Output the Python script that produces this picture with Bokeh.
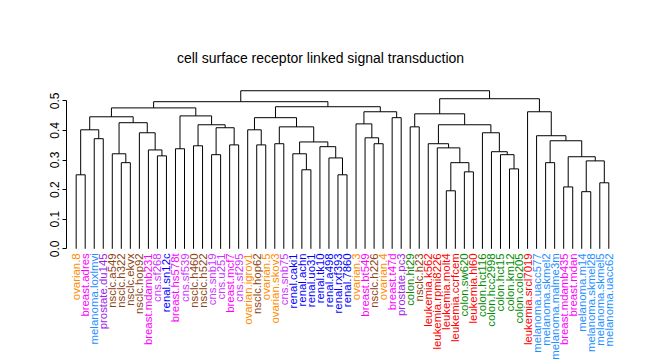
import math
from bokeh.plotting import figure
from bokeh.models import Range1d, FixedTicker, ColumnDataSource
from bokeh.core.properties import value
from bokeh.embed import file_html
from bokeh.resources import INLINE

TITLE = "cell surface receptor linked signal transduction"

LEAF_LABELS = [
    "ovarian.8", "breast.adres", "melanoma.loxlmvi", "prostate.du145", "nsclc.a549",
    "nsclc.h322", "nsclc.ekvx", "nsclc.hop92", "breast.mdamb231", "cns.sf268",
    "renal.sn12c", "breast.hs578t", "cns.sf539", "nsclc.h460", "nsclc.h522",
    "cns.snb19", "cns.u251", "breast.mcf7", "cns.sf295", "ovarian.igrov1",
    "nsclc.hop62", "ovarian.5", "ovarian.skov3", "cns.snb75", "renal.caki1",
    "renal.achn", "renal.uo31", "renal.tk10", "renal.a498", "renal.rxf393",
    "renal.7860", "ovarian.3", "breast.bt549", "nsclc.h226", "ovarian.4",
    "breast.t47d", "prostate.pc3", "colon.ht29", "nsclc.h23", "leukemia.k562",
    "leukemia.rpmi8226", "leukemia.molt4", "leukemia.ccrfcem", "colon.sw620", "leukemia.hl60",
    "colon.hct116", "colon.hcc2998", "colon.hct15", "colon.km12", "colon.colo205",
    "leukemia.srcl7019", "melanoma.uacc577", "melanoma.skmel2", "melanoma.malme3m", "breast.mdamb435",
    "breast.mdan", "melanoma.m14", "melanoma.skmel28", "melanoma.skmel5", "melanoma.uacc62",
]

GROUP_COLORS = {
    "ovarian": "#FF8C00",
    "breast": "#FF00FF",
    "melanoma": "#1E90FF",
    "prostate": "#A020F0",
    "nsclc": "#8B4513",
    "cns": "#CC33FF",
    "renal": "#0000FF",
    "colon": "#008B00",
    "leukemia": "#FF0000",
}

# hclust-style merge table: negative = leaf number, positive = earlier merge row (1-based)
MERGE_LEFT = [-1, -3, 1, -6, -5, -10, -9, -8, 5, 3,
              -12, -14, -16, -18, 13, 12, 11, 10, -21, -20,
              -23, -26, -25, -30, -29, -28, 23, 21, 20, -34,
              -33, -32, -36, 32, 29, 18, -38, -42, -44, 38,
              -41, -40, -49, -48, -47, -46, 42, 37, -53, -55,
              -57, -59, 51, 50, 49, -52, -51, 48, 36]
MERGE_RIGHT = [-2, -4, 2, -7, 4, -11, 6, 7, 8, 9,
               -13, -15, -17, -19, 14, 15, 16, 17, -22, 19,
               -24, -27, 22, -31, 24, 25, 26, 27, 28, -35,
               30, 31, -37, 33, 34, 35, -39, -43, -45, 39,
               40, 41, -50, 43, 44, 45, 46, 47, -54, -56,
               -58, -60, 52, 53, 54, 55, 56, 57, 58]
MERGE_HEIGHT = [0.250, 0.372, 0.402, 0.291, 0.321, 0.314, 0.334, 0.392, 0.426, 0.446,
                0.338, 0.348, 0.318, 0.351, 0.409, 0.419, 0.449, 0.476, 0.351, 0.402,
                0.355, 0.267, 0.321, 0.250, 0.307, 0.345, 0.361, 0.412, 0.443, 0.355,
                0.375, 0.422, 0.443, 0.463, 0.480, 0.497, 0.412, 0.196, 0.260, 0.291,
                0.341, 0.355, 0.270, 0.318, 0.328, 0.392, 0.419, 0.456, 0.291, 0.209,
                0.193, 0.223, 0.297, 0.311, 0.365, 0.382, 0.463, 0.507, 0.534]

Y_TICKS = [0.0, 0.1, 0.2, 0.3, 0.4, 0.5]
Y_TICK_LABELS = ["0.0", "0.1", "0.2", "0.3", "0.4", "0.5"]

# ---- layout constants (pixels, page coordinates) ----
W, H = 647, 360
FRAME_LEFT = 66
X0_DATA, X1_DATA = -0.0711, 64.285
Y0_DATA, Y1_DATA = -0.37736, 0.83885
PX_PER_Y = H / (Y1_DATA - Y0_DATA)
PX_PER_X = (W - FRAME_LEFT) / (X1_DATA - X0_DATA)
LABEL_GAP = 4.5 / PX_PER_Y
TITLE_X = X0_DATA + (320 - FRAME_LEFT) / PX_PER_X
TITLE_Y = Y1_DATA - 57 / PX_PER_Y

# ---- dendrogram geometry ----
def node_pos(ref, nodes):
    if ref < 0:
        return float(-ref), 0.0
    return nodes[ref - 1]

nodes = []
x0s, y0s, x1s, y1s = [], [], [], []
for l, r, h in zip(MERGE_LEFT, MERGE_RIGHT, MERGE_HEIGHT):
    lx, ly = node_pos(l, nodes)
    rx, ry = node_pos(r, nodes)
    x0s += [lx, lx, rx]
    y0s += [ly, h, ry]
    x1s += [lx, rx, rx]
    y1s += [h, h, h]
    nodes.append(((lx + rx) / 2.0, h))

seg_src = ColumnDataSource(dict(x0=x0s, y0=y0s, x1=x1s, y1=y1s))

lab_src = ColumnDataSource(dict(
    x=[float(i + 1) for i in range(len(LEAF_LABELS))],
    y=[-LABEL_GAP] * len(LEAF_LABELS),
    text=LEAF_LABELS,
    color=[GROUP_COLORS[s.split(".")[0]] for s in LEAF_LABELS],
))

p = figure(width=W, height=H,
           x_range=Range1d(X0_DATA, X1_DATA), y_range=Range1d(Y0_DATA, Y1_DATA),
           output_backend="svg", toolbar_location=None, x_axis_location=None,
           min_border_left=FRAME_LEFT, min_border_right=0, min_border_top=0, min_border_bottom=0)
p.outline_line_color = None
p.grid.visible = False
p.background_fill_color = "white"
p.border_fill_color = "white"

p.segment(x0="x0", y0="y0", x1="x1", y1="y1", source=seg_src, line_color="black", line_width=1)

p.text(x="x", y="y", text="text", text_color="color", source=lab_src,
       angle=math.pi / 2, text_align="right", text_baseline="middle",
       text_font=value("Liberation Sans"), text_font_size=value("11.4px"))

p.text(x=[TITLE_X], y=[TITLE_Y], text=[TITLE], text_color="black",
       text_align="center", text_baseline="alphabetic",
       text_font=value("Liberation Sans"), text_font_size=value("14px"))

ax = p.yaxis[0]
ax.ticker = FixedTicker(ticks=Y_TICKS)
ax.major_label_overrides = {t: s for t, s in zip(Y_TICKS, Y_TICK_LABELS)}
ax.bounds = (0, 0.5)
ax.minor_tick_line_color = None
ax.major_tick_in = 0
ax.major_tick_out = 4
ax.major_label_standoff = 3
ax.major_label_orientation = "vertical"
ax.major_label_text_font = "Liberation Sans"
ax.major_label_text_font_size = "12px"
ax.major_label_text_color = "black"
ax.axis_line_color = "black"
ax.major_tick_line_color = "black"

open("out.html", "w").write(file_html(p, INLINE))
